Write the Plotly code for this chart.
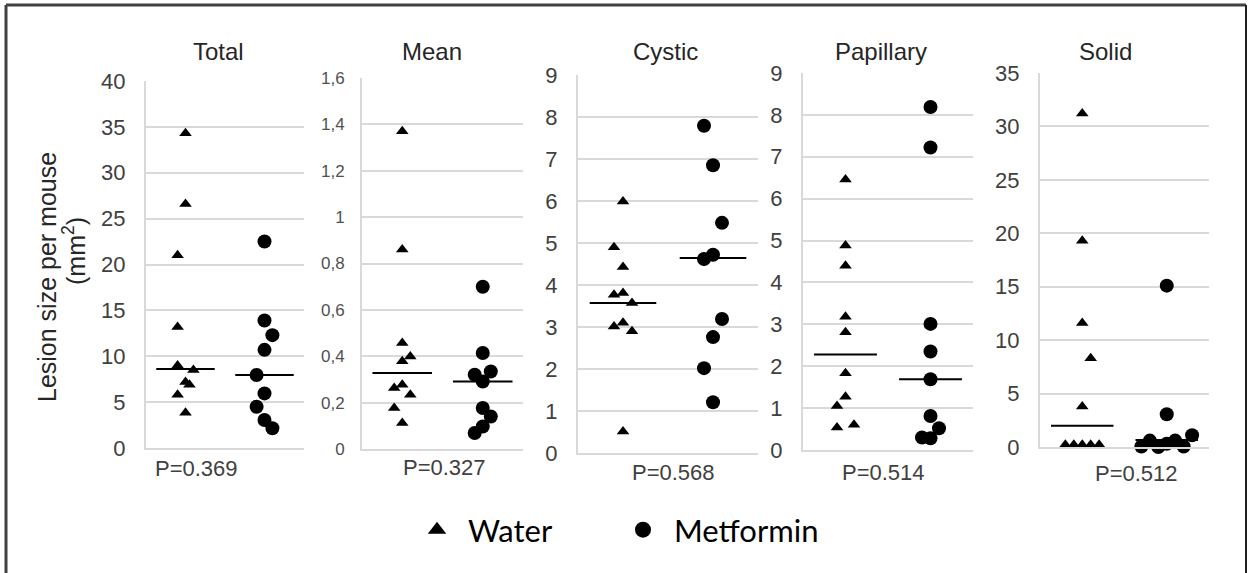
import plotly.graph_objects as go

# ---------------- data ----------------
panels = ["Total", "Mean", "Cystic", "Papillary", "Solid"]
groups = ["Water", "Metformin"]

total_water = [34.3, 26.6, 21.0, 13.2, 9.0, 8.5, 7.2, 6.9, 5.8, 3.85]
total_metformin = [22.5, 13.9, 12.3, 10.7, 7.95, 5.95, 4.5, 3.05, 2.15]
mean_water = [1.37, 0.86, 0.457, 0.399, 0.378, 0.277, 0.263, 0.234, 0.177, 0.112]
mean_metformin = [0.70, 0.414, 0.334, 0.32, 0.291, 0.177, 0.14, 0.097, 0.069]
cystic_water = [5.99, 4.90, 4.43, 3.81, 3.77, 3.57, 3.10, 3.01, 2.90, 0.51]
cystic_metformin = [7.79, 6.85, 5.48, 4.72, 4.62, 3.19, 2.76, 2.02, 1.21]
papillary_water = [6.46, 4.88, 4.40, 3.18, 2.81, 1.83, 1.27, 1.05, 0.54, 0.60]
papillary_metformin = [8.19, 7.22, 3.01, 2.35, 1.69, 0.81, 0.52, 0.30, 0.28]
solid_water = [31.2, 19.3, 11.6, 8.3, 3.8, 0.2, 0.2, 0.2, 0.2, 0.2]
solid_metformin = [15.1, 3.06, 0.05, 0.6, 0.0, 0.3, 0.6, 0.05, 1.1]

medians_water = [8.6, 0.328, 3.57, 2.28, 2.0]
medians_metformin = [7.95, 0.291, 4.64, 1.69, 0.65]

p_values = ["P=0.369", "P=0.327", "P=0.568", "P=0.514", "P=0.512"]

y_max = [40, 1.6, 9, 9, 35]
y_step = [5, 0.2, 1, 1, 5]
mean_tick_vals = [0, 0.2, 0.4, 0.6, 0.8, 1.0, 1.2, 1.4, 1.6]
mean_tick_text = ["0", "0,2", "0,4", "0,6", "0,8", "1", "1,2", "1,4", "1,6"]

# ---------------- layout helpers (positions, not data) ----------------
jitter_water = [
    [0, 0, -1, -1, -1, 1, 0, 0.5, -1, 0],
    [0, 0, 0, 1, 0, 0, -1, 1, -1, 0],
    [0, -1, 0, 0, -1, 1, 0, -1, 1, 0],
    [0, 0, 0, 0, 0, 0, 0, -1, -1, 1],
    [0, 0, 0, 1, 0, -2, -1, 0, 1, 2],
]
jitter_metformin = [
    [0, 0, 1, 0, -1, 0, -1, 0, 1],
    [0, 0, 1, -1, 0, 0, 1, 0, -1],
    [-1, 0, 1, 0, -1, 1, 0, -1, 0],
    [0, 0, 0, 0, 0, 0, 1, -1, 0],
    [0, 0, -3, -2, -1, 0, 1, 2, 3],
]
JSTEP = 0.1
HALF = 0.37

W, H = 1255, 573
boxes = [
    (146, 304, 81, 448),
    (362, 523, 78, 449),
    (578, 758, 75, 453),
    (803, 973, 73, 450),
    (1040, 1209, 73, 447),
]
title_pos = [(218, 51), (432, 51), (665, 51), (881, 51), (1105, 51)]
p_pos = [(196, 468), (444, 467), (674, 472), (883, 472), (1136, 473)]

water_sets = [total_water, mean_water, cystic_water, papillary_water, solid_water]
met_sets = [total_metformin, mean_metformin, cystic_metformin, papillary_metformin, solid_metformin]


def px(x):
    return x / W


def py(y):
    return (H - y) / H


fig = go.Figure()
GRID = "#d9d9d9"
TXT = "#404040"
FONT = "Liberation Sans, Arial"

for i in range(5):
    ax = "" if i == 0 else str(i + 1)
    xa, ya = "x" + ax, "y" + ax
    wv, mv = water_sets[i], met_sets[i]
    fig.add_trace(go.Scatter(
        x=[0 + JSTEP * j for j in jitter_water[i]], y=wv, mode="markers",
        marker=dict(symbol="triangle-up", size=11, color="black"),
        xaxis=xa, yaxis=ya, name=groups[0], showlegend=False,
        cliponaxis=False))
    fig.add_trace(go.Scatter(
        x=[1 + JSTEP * j for j in jitter_metformin[i]], y=mv, mode="markers",
        marker=dict(symbol="circle", size=14, color="black"),
        xaxis=xa, yaxis=ya, name=groups[1], showlegend=False,
        cliponaxis=False))
    for g, med in enumerate([medians_water[i], medians_metformin[i]]):
        fig.add_trace(go.Scatter(
            x=[g - HALF, g + HALF], y=[med, med], mode="lines",
            line=dict(color="black", width=2), xaxis=xa, yaxis=ya,
            showlegend=False, hoverinfo="skip", cliponaxis=False))

    l, r, t, b = boxes[i]
    xkey = "xaxis" + ax
    ykey = "yaxis" + ax
    fig.layout[xkey] = dict(
        domain=[px(l), px(r)], range=[-0.5, 1.5], showgrid=False,
        zeroline=False, showticklabels=False, showline=True,
        linecolor=GRID, linewidth=2, anchor=ya, fixedrange=True,
        automargin=False)
    ydict = dict(
        domain=[py(b), py(t)], range=[0, y_max[i]], showgrid=True,
        gridcolor=GRID, gridwidth=2, zeroline=False, showline=True,
        linecolor=GRID, linewidth=2, anchor=xa, ticks="",
        ticklabelstandoff=14, automargin=False,
        tickfont=dict(family=FONT, size=22, color=TXT))
    if i == 1:
        ydict.update(tickmode="array", tickvals=mean_tick_vals,
                     ticktext=mean_tick_text,
                     tickfont=dict(family=FONT, size=17, color="#505050"),
                     ticklabelstandoff=12)
    else:
        ydict.update(tick0=0, dtick=y_step[i])
    fig.layout[ykey] = ydict

    tx, ty = title_pos[i]
    fig.add_annotation(text=panels[i], x=px(tx), y=py(ty), xref="paper",
                       yref="paper", showarrow=False, xanchor="center",
                       yanchor="middle",
                       font=dict(family=FONT, size=24, color="#262626"))
    qx, qy = p_pos[i]
    fig.add_annotation(text=p_values[i], x=px(qx), y=py(qy), xref="paper",
                       yref="paper", showarrow=False, xanchor="center",
                       yanchor="middle",
                       font=dict(family=FONT, size=22, color=TXT))

# legend entries (symbols only, sized like the reference key)
fig.add_trace(go.Scatter(x=[None], y=[None], mode="markers", name=groups[0],
                         legend="legend",
                         marker=dict(symbol="triangle-up", size=16,
                                     color="black")))
fig.add_trace(go.Scatter(x=[None], y=[None], mode="markers", name=groups[1],
                         legend="legend2",
                         marker=dict(symbol="circle", size=16, color="black")))

# y-axis title (two lines)
fig.add_annotation(text="Lesion size per mouse", x=px(47), y=py(277),
                   xref="paper", yref="paper", showarrow=False, textangle=-90,
                   xanchor="center", yanchor="middle",
                   font=dict(family=FONT, size=25, color="#262626"))
fig.add_annotation(text="(mm<sup>2</sup>)", x=px(74), y=py(251),
                   xref="paper", yref="paper", showarrow=False, textangle=-90,
                   xanchor="center", yanchor="middle",
                   font=dict(family=FONT, size=25, color="#262626"))

# frame
FR = "#404040"
fig.add_shape(type="line", xref="paper", yref="paper", x0=px(6), x1=px(6),
              y0=0, y1=py(5), line=dict(color=FR, width=3))
fig.add_shape(type="line", xref="paper", yref="paper", x0=px(6), x1=px(1246),
              y0=py(5), y1=py(5), line=dict(color=FR, width=3))
fig.add_shape(type="line", xref="paper", yref="paper", x0=px(1246),
              x1=px(1246), y0=0, y1=py(5), line=dict(color="#202020", width=2))

leg_common = dict(orientation="h", xanchor="left", yanchor="middle",
                  y=py(530), font=dict(family="Lato", size=31, color="black"),
                  itemwidth=52, bgcolor="rgba(0,0,0,0)")

fig.update_layout(
    width=W, height=H, margin=dict(l=0, r=0, t=0, b=0, autoexpand=False),
    paper_bgcolor="white", plot_bgcolor="white",
    showlegend=True,
    legend=dict(x=px(406), **leg_common),
    legend2=dict(x=px(612), **leg_common),
)

fig.write_html("out.html")
